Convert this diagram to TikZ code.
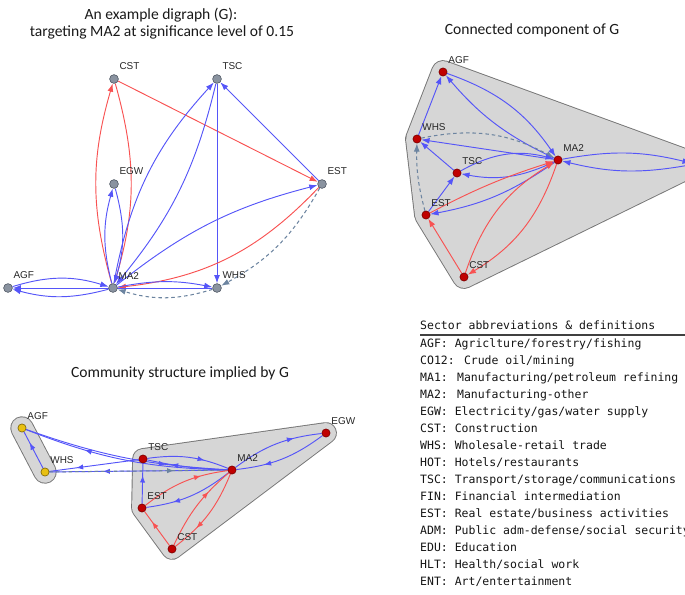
\documentclass[tikz,border=0pt]{standalone}
\usepackage{fontspec}
\setmainfont{Carlito}
\newfontfamily\lblfont{Liberation Sans}
\newfontfamily\legfont{DejaVu Sans Mono}
\usepackage{tikz}
\usetikzlibrary{arrows.meta,decorations.markings}

\definecolor{edgeblue}{RGB}{85,85,248}
\definecolor{edgered}{RGB}{248,82,82}
\definecolor{edgedash}{RGB}{108,132,160}
\definecolor{nodegray}{RGB}{138,147,160}
\definecolor{nodegrayline}{RGB}{78,86,98}
\definecolor{nodered}{RGB}{192,0,0}
\definecolor{noderedline}{RGB}{120,0,0}
\definecolor{nodeyellow}{RGB}{232,192,18}
\definecolor{nodeyellowline}{RGB}{120,96,0}
\definecolor{hullfill}{RGB}{214,214,214}
\definecolor{hullline}{RGB}{118,118,118}

\pgfdeclarelayer{hulls}
\pgfdeclarelayer{edges}
\pgfsetlayers{hulls,edges,main}

\begin{document}
\begin{tikzpicture}[
        x=0.03cm, y=-0.03cm,
        label distance=4pt,
        gnode/.style={circle, draw=nodegrayline, fill=nodegray, line width=0.5pt, minimum size=7.5pt, inner sep=0pt},
        rnode/.style={gnode, draw=noderedline, fill=nodered, minimum size=7pt},
        ynode/.style={gnode, draw=nodeyellowline, fill=nodeyellow, minimum size=7pt},
        lbl/.style={font=\lblfont\fontsize{8.5}{9}\selectfont, text=black!85, inner sep=0.5pt, anchor=south west},
        title/.style={font=\fontsize{13.3}{16}\selectfont, text=black!90, inner sep=0pt, anchor=base},
        legline/.style={font=\legfont\fontsize{9.8}{12}\selectfont, text=black!92, inner sep=0pt, anchor=base west},
        tip/.style={-{Latex[length=7pt,width=5pt]}},
        bluee/.style={draw=edgeblue, line width=0.8pt, tip},
        rede/.style={draw=edgered, line width=0.8pt, tip},
        dashe/.style={draw=edgedash, line width=0.9pt, dash pattern=on 3pt off 2.5pt, tip},
        midtip/.style={postaction={decorate}, decoration={markings, mark=at position 0.7 with {\arrow{Latex[length=6pt,width=4.5pt]}}}},
        bblue/.style={color=edgeblue, line width=0.8pt, midtip},
        bred/.style={color=edgered, line width=0.8pt, midtip},
        bdash/.style={color=edgedash, line width=0.9pt, dash pattern=on 3pt off 2.5pt, midtip},
        hullout/.style={draw=hullline, fill=hullfill, line join=round},
        hullin/.style={draw=hullfill, fill=hullfill, line join=round}
    ]
    \clip (0,0) rectangle (685,594);

    % Titles
    \node[title] (ttl1) at (161,20) {An example digraph (G):};
    \node[title] (ttl2) at (162,37) {targeting MA2 at significance level of 0.15};
    \node[title] (ttlr) at (532,35) {Connected component of G};
    \node[title] (ttlb) at (180,377) {Community structure implied by G};

    % Digraph G (top left)
    \node[gnode, label={[lbl]60:CST}] (tCST) at (114,79) {};
    \node[gnode, label={[lbl]60:TSC}] (tTSC) at (217,79) {};
    \node[gnode, label={[lbl]60:EST}] (tEST) at (322,184) {};
    \node[gnode, label={[lbl]60:EGW}] (tEGW) at (114,184) {};
    \node[gnode, label={[lbl]60:AGF}] (tAGF) at (8,288) {};
    \node[gnode, label={[lbl]60:MA2}] (tMA2) at (113,288) {};
    \node[gnode, label={[lbl]60:WHS}] (tWHS) at (217,288) {};

    \begin{pgfonlayer}{edges}
    \draw[rede] (tCST) -- (tEST);
    \draw[rede] (tMA2) to[bend left=16] (tCST);
    \draw[rede] (tCST) to[bend left=16] (tMA2);
    \draw[bluee] (tMA2) to[bend left=15] (tEGW);
    \draw[bluee] (tEGW) to[bend left=16] (tMA2);
    \draw[bluee] (tMA2) to[bend left=16] (tTSC);
    \draw[bluee] (tTSC) to[bend left=13] (tMA2);
    \draw[bluee] (tTSC) -- (tWHS);
    \draw[bluee] (tEST) -- (tTSC);
    \draw[bluee] (tMA2) to[bend left=12] (tEST);
    \draw[rede] (tEST) to[bend left=20] (tMA2);
    \draw[dashe] (tEST) to[bend left=16] (tWHS);
    \draw[dashe] (tWHS) to[bend left=17] (tMA2);
    \draw[bluee] (tMA2) to[bend left=11] (tWHS);
    \draw[bluee] (tWHS) -- (tAGF);
    \draw[bluee] (tAGF) to[bend left=17] (tMA2);
    \draw[bluee] (tMA2) to[bend left=15] (tAGF);
    \end{pgfonlayer}

    % Connected component (top right)
    \node[rnode, label={[lbl]60:AGF}] (rAGF) at (443,72) {};
    \node[rnode, label={[lbl]60:WHS}] (rWHS) at (417,139) {};
    \node[rnode, label={[lbl]60:MA2}] (rMA2) at (558,160) {};
    \node[rnode, label={[lbl]60:TSC}] (rTSC) at (457,173) {};
    \node[rnode, label={[lbl]60:EST}] (rEST) at (426,215) {};
    \node[rnode, label={[lbl]60:CST}] (rCST) at (464,277) {};
    \node[rnode] (rEGW) at (695,164) {};

    \begin{pgfonlayer}{hulls}
    \draw[hullout, line width=20.3pt] (rAGF.center) -- (rEGW.center) -- (rCST.center) -- (rEST.center) -- (rWHS.center) -- cycle;
    \draw[hullin, line width=18.7pt] (rAGF.center) -- (rEGW.center) -- (rCST.center) -- (rEST.center) -- (rWHS.center) -- cycle;
    \end{pgfonlayer}

    \begin{pgfonlayer}{edges}
    \draw[bluee] (rWHS) -- (rAGF);
    \draw[bluee] (rAGF) to[bend left=18] (rMA2);
    \draw[bluee] (rMA2) to[bend left=12] (rAGF);
    \draw[dashe] (rWHS) to[bend left=20] (rMA2);
    \draw[dashe] (rEST) to[bend left=8] (rWHS);
    \draw[bluee] (rTSC) -- (rWHS);
    \draw[bluee] (rMA2) -- (rWHS);
    \draw[bluee] (rTSC) to[bend left=22] (rMA2);
    \draw[bluee] (rMA2) to[bend left=18] (rTSC);
    \draw[bluee] (rEST) -- (rTSC);
    \draw[rede] (rEST) to[bend left=5] (rMA2);
    \draw[bluee] (rMA2) to[bend left=12] (rEST);
    \draw[rede] (rCST) -- (rEST);
    \draw[rede] (rMA2) to[bend left=20] (rCST);
    \draw[rede] (rCST) to[bend left=20] (rMA2);
    \draw[bluee] (rMA2) to[bend left=12] (rEGW);
    \draw[bluee] (rEGW) to[bend left=12] (rMA2);
    \end{pgfonlayer}

    % Community structure (bottom left)
    \node[ynode, label={[lbl]60:AGF}] (bAGF) at (22,428) {};
    \node[ynode, label={[lbl]60:WHS}] (bWHS) at (45,472) {};
    \node[rnode, label={[lbl]60:TSC}] (bTSC) at (143,459) {};
    \node[rnode, label={[lbl]60:MA2}] (bMA2) at (232,470) {};
    \node[rnode, label={[lbl]60:EST}] (bEST) at (142,508) {};
    \node[rnode, label={[lbl]60:CST}] (bCST) at (172,549) {};
    \node[rnode, label={[lbl]60:EGW}] (bEGW) at (326,433) {};

    \begin{pgfonlayer}{hulls}
    \draw[hullout, line cap=round, line width=20pt] (bAGF.center) -- (bWHS.center);
    \draw[hullin, line cap=round, line width=18.4pt] (bAGF.center) -- (bWHS.center);
    \draw[hullout, line width=18.5pt] (bTSC.center) -- (bEGW.center) -- (bCST.center) -- (bEST.center) -- cycle;
    \draw[hullin, line width=16.9pt] (bTSC.center) -- (bEGW.center) -- (bCST.center) -- (bEST.center) -- cycle;
    \end{pgfonlayer}

    \begin{pgfonlayer}{edges}
    \draw[bblue] (bWHS) -- (bAGF);
    \draw[bblue] (bMA2) to[bend left=10] (bAGF);
    \draw[bblue] (bAGF) to[bend right=8] (bMA2);
    \draw[bblue] (bMA2) -- (bWHS);
    \draw[bblue] (bTSC) -- (bWHS);
    \draw[bdash] (bWHS) -- (bMA2);
    \draw[bblue] (bTSC) to[bend left=15] (bMA2);
    \draw[bblue] (bMA2) to[bend left=5] (bTSC);
    \draw[bblue] (bEST) -- (bTSC);
    \draw[bblue] (bMA2) to[bend left=15] (bEST);
    \draw[bred] (bEST) to[bend left=15] (bMA2);
    \draw[bred] (bCST) -- (bEST);
    \draw[bred] (bCST) to[bend left=12] (bMA2);
    \draw[bred] (bMA2) to[bend left=15] (bCST);
    \draw[bblue] (bMA2) to[bend left=15] (bEGW);
    \draw[bblue] (bEGW) to[bend left=15] (bMA2);
    \end{pgfonlayer}

    % Legend
    \node[legline] (leghead) at (420,329) {Sector abbreviations \& definitions};
    \draw[black!75, line width=1pt] (420,335) -- (685,335);
    \foreach \entry [count=\i] in {AGF: Agriclture/forestry/fishing, CO12: Crude oil/mining,
        MA1: Manufacturing/petroleum refining, MA2: Manufacturing-other,
        EGW: Electricity/gas/water supply, CST: Construction, WHS: Wholesale-retail trade,
        HOT: Hotels/restaurants, TSC: Transport/storage/communications,
        FIN: Financial intermediation, EST: Real estate/business activities,
        ADM: Public adm-defense/social security, EDU: Education,
        HLT: Health/social work, ENT: Art/entertainment}
        \node[legline] (leg\i) at (420,{347+17*(\i-1)}) {\entry};

\end{tikzpicture}
\end{document}
